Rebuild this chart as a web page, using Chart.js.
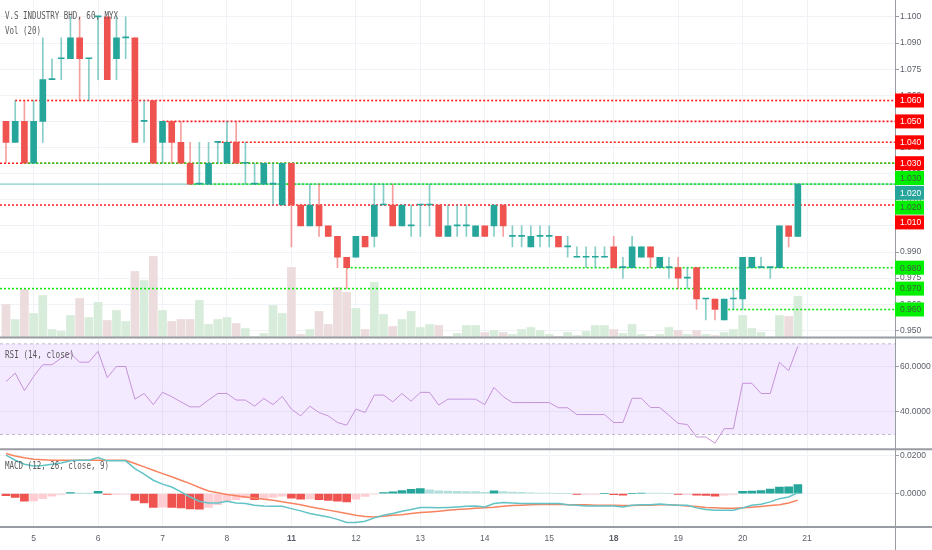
<!DOCTYPE html>
<html>
<head>
<meta charset="utf-8">
<script src="https://cdn.jsdelivr.net/npm/chart.js@4.4.1/dist/chart.umd.min.js"></script>
<style>
html, body { margin: 0; padding: 0; background: #fff; }
canvas { display: block; }
</style>
</head>
<body>
<canvas id="chart" width="932" height="550"></canvas>
<script>
////////////////////////////////////////////////////////////////////////////////
// Data (hourly bars, V.S Industry Bhd, MYX).

var dayTickIndex = [3, 10, 17, 24, 31, 38, 45, 52, 59, 66, 73, 80, 87];
var dayLabels = ['5', '6', '7', '8', '11', '12', '13', '14', '15', '18', '19', '20', '21'];
var weekStartDays = ['11', '18'];

var open = [1.050,1.040,1.050,1.030,1.050,1.070,1.080,1.080,1.090,1.080,
  1.100,1.100,1.080,1.090,1.090,1.050,1.060,1.040,1.050,1.040,
  1.030,1.020,1.020,1.040,1.030,1.040,1.030,1.020,1.020,1.020,
  1.010,1.030,1.010,1.000,1.010,1.000,0.995,0.985,0.985,0.995,
  0.995,1.010,1.010,1.000,1.000,1.010,1.010,1.010,0.995,1.000,
  1.000,0.995,1.000,1.000,1.010,0.995,0.995,0.990,0.995,0.995,
  0.995,0.990,0.985,0.985,0.985,0.985,0.990,0.980,0.980,0.985,
  0.990,0.980,0.980,0.980,0.975,0.980,0.965,0.965,0.955,0.965,
  0.965,0.980,0.980,0.980,0.980,1.000,0.995];
var high = [1.050,1.060,1.060,1.060,1.090,1.080,1.090,1.100,1.100,1.080,
  1.100,1.100,1.100,1.100,1.090,1.060,1.060,1.050,1.050,1.050,
  1.040,1.040,1.040,1.040,1.050,1.050,1.040,1.030,1.030,1.030,
  1.030,1.030,1.010,1.020,1.020,1.000,0.995,0.985,0.995,0.995,
  1.020,1.020,1.020,1.010,1.010,1.010,1.020,1.010,1.010,1.010,
  1.010,1.000,1.000,1.010,1.010,1.000,1.000,1.000,1.000,1.000,
  0.995,0.995,0.990,0.990,0.990,0.990,0.995,0.985,0.995,0.990,
  0.990,0.985,0.985,0.985,0.980,0.980,0.965,0.965,0.965,0.970,
  0.985,0.985,0.985,0.980,1.000,1.000,1.020];
var low = [1.030,1.040,1.030,1.030,1.040,1.070,1.070,1.080,1.060,1.060,
  1.070,1.070,1.070,1.080,1.040,1.040,1.030,1.030,1.030,1.030,
  1.020,1.020,1.020,1.030,1.030,1.030,1.020,1.020,1.020,1.010,
  1.010,0.990,1.000,1.000,0.995,0.995,0.980,0.970,0.985,0.990,
  0.990,1.010,1.000,1.000,0.995,0.995,1.000,0.995,0.995,0.995,
  0.995,0.995,0.995,0.995,0.995,0.990,0.990,0.990,0.990,0.990,
  0.990,0.985,0.985,0.980,0.980,0.985,0.980,0.975,0.980,0.985,
  0.980,0.980,0.975,0.970,0.970,0.960,0.955,0.955,0.955,0.960,
  0.960,0.980,0.980,0.975,0.980,0.990,0.995];
var close = [1.040,1.050,1.030,1.050,1.070,1.070,1.080,1.090,1.080,1.080,
  1.100,1.070,1.090,1.090,1.040,1.050,1.030,1.050,1.040,1.030,
  1.020,1.020,1.030,1.040,1.040,1.030,1.030,1.020,1.030,1.020,
  1.030,1.010,1.000,1.010,1.000,0.995,0.985,0.980,0.995,0.990,
  1.010,1.010,1.000,1.010,1.000,1.010,1.010,0.995,1.000,1.000,
  1.000,1.000,0.995,1.010,1.000,0.995,0.995,0.995,0.995,0.995,
  0.990,0.990,0.985,0.985,0.985,0.985,0.980,0.980,0.990,0.990,
  0.985,0.985,0.980,0.975,0.975,0.965,0.965,0.960,0.965,0.965,
  0.985,0.985,0.980,0.980,1.000,0.995,1.020];
var volume = [330,180,480,240,420,80,60,220,390,200,
  350,170,270,160,660,570,810,270,160,180,
  180,370,130,180,200,140,90,10,40,320,
  240,700,30,80,260,130,500,450,290,80,
  550,230,110,180,260,100,130,120,10,40,
  120,120,50,70,50,30,80,100,70,30,
  10,50,20,60,120,120,80,40,130,30,
  10,30,100,70,30,70,30,20,50,80,
  220,90,50,5,220,210,410];

var rsi = [53.3,57.1,49.4,55.6,60.8,60.8,63.7,65.9,61.9,61.9,
  66.7,55.1,60.0,60.0,45.6,48.1,43.2,48.6,46.7,44.4,
  42.2,42.2,45.2,48.1,48.1,45.2,45.2,42.5,45.9,43.2,
  46.8,41.2,38.2,42.5,39.7,38.2,35.3,34.1,41.2,39.7,
  47.4,47.4,44.4,48.1,44.7,48.6,48.6,43.0,45.6,45.6,
  45.6,45.6,43.2,50.8,46.7,44.1,44.1,44.1,44.1,44.1,
  41.8,41.8,38.8,38.8,38.8,38.8,35.3,35.3,46.0,46.0,
  41.9,41.9,38.5,34.9,34.4,28.9,28.9,26.2,32.6,32.6,
  52.6,52.6,48.1,48.1,61.9,58.1,68.9];

var macd = [0.0204,0.0177,0.0156,0.0147,0.0149,0.0156,0.0163,0.0174,0.0177,0.0177,
  0.0191,0.0174,0.0174,0.0174,0.0133,0.0103,0.0071,0.0050,0.0035,0.0009,
  -0.0018,-0.0041,-0.0050,-0.0050,-0.0041,-0.0050,-0.0053,-0.0062,-0.0066,-0.0067,
  -0.0067,-0.0080,-0.0092,-0.0106,-0.0115,-0.0124,-0.0137,-0.0154,-0.0154,-0.0147,
  -0.0129,-0.0115,-0.0106,-0.0094,-0.0085,-0.0074,-0.0074,-0.0076,-0.0074,-0.0071,
  -0.0067,-0.0066,-0.0071,-0.0053,-0.0048,-0.0050,-0.0053,-0.0053,-0.0053,-0.0053,
  -0.0053,-0.0059,-0.0062,-0.0066,-0.0066,-0.0066,-0.0066,-0.0071,-0.0062,-0.0059,
  -0.0059,-0.0055,-0.0059,-0.0062,-0.0062,-0.0076,-0.0085,-0.0089,-0.0089,-0.0089,
  -0.0076,-0.0062,-0.0057,-0.0044,-0.0027,-0.0018,0.0005];
var signal = [0.0213,0.0200,0.0190,0.0183,0.0180,0.0177,0.0177,0.0177,0.0177,0.0177,
  0.0177,0.0177,0.0177,0.0177,0.0160,0.0142,0.0124,0.0106,0.0089,0.0071,
  0.0053,0.0032,0.0014,0.0004,-0.0005,-0.0012,-0.0018,-0.0023,-0.0030,-0.0035,
  -0.0043,-0.0051,-0.0059,-0.0070,-0.0079,-0.0088,-0.0097,-0.0106,-0.0115,-0.0122,
  -0.0124,-0.0121,-0.0115,-0.0112,-0.0106,-0.0101,-0.0098,-0.0094,-0.0089,-0.0085,
  -0.0082,-0.0078,-0.0076,-0.0073,-0.0067,-0.0064,-0.0062,-0.0059,-0.0058,-0.0058,
  -0.0057,-0.0059,-0.0059,-0.0060,-0.0062,-0.0062,-0.0062,-0.0064,-0.0064,-0.0062,
  -0.0062,-0.0060,-0.0060,-0.0062,-0.0066,-0.0069,-0.0074,-0.0076,-0.0078,-0.0078,
  -0.0076,-0.0073,-0.0069,-0.0064,-0.0059,-0.0050,-0.0035];
var histogram = [-0.0011,-0.0020,-0.0041,-0.0039,-0.0027,-0.0014,-0.0005,0.0005,0.0001,0.0001,
  0.0012,-0.0005,-0.0004,-0.0003,-0.0036,-0.0050,-0.0073,-0.0072,-0.0074,-0.0076,
  -0.0082,-0.0083,-0.0073,-0.0059,-0.0041,-0.0032,-0.0023,-0.0033,-0.0027,-0.0020,
  -0.0014,-0.0024,-0.0030,-0.0029,-0.0033,-0.0036,-0.0040,-0.0044,-0.0030,-0.0015,
  -0.0003,0.0005,0.0009,0.0016,0.0022,0.0026,0.0020,0.0014,0.0013,0.0012,
  0.0011,0.0010,0.0006,0.0015,0.0011,0.0008,0.0006,0.0004,0.0003,0.0002,
  0.0000,0.0000,-0.0005,-0.0005,-0.0004,0.0000,-0.0006,-0.0008,0.0000,0.0003,
  0.0003,0.0003,0.0000,-0.0004,-0.0004,-0.0009,-0.0010,-0.0014,-0.0008,-0.0005,
  0.0012,0.0013,0.0016,0.0024,0.0034,0.0036,0.0048];

// Horizontal levels drawn on the chart; start = first bar of the ray (null = left edge).
var resistanceLevels = [1.060, 1.050, 1.040, 1.030, 1.010];
var resistanceStart = [1, 17, 23, null, null];
var supportLevels = [1.030, 1.020, 0.980, 0.970, 0.960];
var supportStart = [2, 20, 37, null, 78];

var priceTicks = [0.95, 0.9625, 0.975, 0.9875, 1.0, 1.0125, 1.025, 1.0375, 1.05, 1.0625, 1.075, 1.0875, 1.1];
var priceTickLabels = ['0.950', '0.960', '0.975', '0.990', '1.000', '1.010', '1.025', '1.040', '1.050', '1.060', '1.075', '1.090', '1.100'];
var rsiTicks = [40, 60];
var rsiBand = [70, 30];
var macdTicks = [0, 0.02];

////////////////////////////////////////////////////////////////////////////////
// Look.

var UP = '#26a69a';
var DOWN = '#ef5350';
var UP_WICK = 'rgba(38, 166, 154, 0.55)';
var DOWN_WICK = 'rgba(239, 83, 80, 0.55)';
var VOL_UP = '#d8ecdb';
var VOL_DOWN = '#ecdcdd';
var RES = '#ff1a1a';
var SUP = '#14e614';
var GRID = '#eff2f6';
var AXIS = '#9a9ca3';
var TEXT = '#5d606b';
var FONT = '"Liberation Sans", Arial, sans-serif';
var MONO = '"DejaVu Sans Mono", monospace';

var X_MIN = -0.65;
var X_MAX = 96.55;
// Pane heights (px) used as stack weights.
var PRICE_W = 337.3, RSI_W = 111.7, MACD_W = 77.7;
var VOL_MAX = 3373;

function isUp(i) { return close[i] >= open[i]; }
function idx(arr) { return arr.map(function (v, i) { return { x: i, y: v }; }); }
function ray(level, start) {
    return [{ x: start === null ? X_MIN : start, y: level }, { x: X_MAX, y: level }];
}
function zeroPad(s) { s.paddingTop = 0; s.paddingBottom = 0; s.paddingLeft = 0; s.paddingRight = 0; }

var datasets = [];

// Volume (behind everything).
datasets.push({
    type: 'bar', yAxisID: 'vol', order: 20, grouped: false, barThickness: 8,
    data: idx(volume),
    backgroundColor: function (c) { return isUp(c.dataIndex) ? VOL_UP : VOL_DOWN; }
});

// Current price line.
var lastPrice = close[close.length - 1];
datasets.push({
    type: 'line', yAxisID: 'y', order: 12, data: ray(lastPrice, null),
    borderColor: 'rgba(38, 166, 154, 0.7)', borderWidth: 1, pointRadius: 0
});

resistanceLevels.forEach(function (lv, k) {
    datasets.push({
        type: 'line', yAxisID: 'y', order: 10, data: ray(lv, resistanceStart[k]),
        borderColor: RES, borderWidth: 1.6, borderDash: [2, 2], pointRadius: 0
    });
});
supportLevels.forEach(function (lv, k) {
    datasets.push({
        type: 'line', yAxisID: 'y', order: 9, data: ray(lv, supportStart[k]),
        borderColor: SUP, borderWidth: 1.6, borderDash: [2, 2], pointRadius: 0
    });
});

// Candles: wick then body, both floating bars.
datasets.push({
    type: 'bar', yAxisID: 'y', order: 2, grouped: false, barThickness: 1, minBarLength: 1,
    data: high.map(function (h, i) { return { x: i, y: [low[i], h] }; }),
    backgroundColor: function (c) { return isUp(c.dataIndex) ? UP_WICK : DOWN_WICK; }
});
datasets.push({
    type: 'bar', yAxisID: 'y', order: 1, grouped: false, barThickness: 6, minBarLength: 1,
    data: open.map(function (o, i) { return { x: i, y: [o, close[i]] }; }),
    backgroundColor: function (c) { return isUp(c.dataIndex) ? UP : DOWN; }
});

// RSI band and line.
datasets.push({
    type: 'line', yAxisID: 'rsi', order: 6, data: ray(rsiBand[0], null),
    borderColor: 'rgba(150, 150, 160, 0.6)', borderWidth: 1, borderDash: [3, 3], pointRadius: 0
});
datasets.push({
    type: 'line', yAxisID: 'rsi', order: 5, data: ray(rsiBand[1], null),
    borderColor: 'rgba(150, 150, 160, 0.6)', borderWidth: 1, borderDash: [3, 3], pointRadius: 0,
    fill: '-1', backgroundColor: 'rgba(160, 80, 255, 0.12)'
});
datasets.push({
    type: 'line', yAxisID: 'rsi', order: 3, data: idx(rsi),
    borderColor: '#c592d8', borderWidth: 1, pointRadius: 0, tension: 0
});

// MACD.
datasets.push({
    type: 'bar', yAxisID: 'macd', order: 8, grouped: false, barThickness: 8,
    data: idx(histogram),
    backgroundColor: function (c) {
        var i = c.dataIndex, v = histogram[i], p = i > 0 ? histogram[i - 1] : 0;
        if (v >= 0) return v > p ? '#26a69a' : '#b2dfdb';
        return v < p ? '#ef5350' : '#ffcdd2';
    }
});
datasets.push({
    type: 'line', yAxisID: 'macd', order: 4, data: idx(signal),
    borderColor: '#f7835f', borderWidth: 1.5, pointRadius: 0, tension: 0
});
datasets.push({
    type: 'line', yAxisID: 'macd', order: 3, data: idx(macd),
    borderColor: '#62c3c6', borderWidth: 1.5, pointRadius: 0, tension: 0
});

////////////////////////////////////////////////////////////////////////////////
// Plugins: pane separators, pane titles and the coloured price labels.

var decorPlugin = {
    id: 'decor',
    afterDraw: function (chart) {
        var ctx = chart.ctx, area = chart.chartArea, s = chart.scales;
        ctx.save();
        ctx.strokeStyle = AXIS;
        ctx.lineWidth = 2;
        [s.y.bottom, s.rsi.bottom, s.macd.bottom].forEach(function (yy) {
            ctx.beginPath();
            ctx.moveTo(0, yy);
            ctx.lineTo(chart.width, yy);
            ctx.stroke();
        });
        ctx.lineWidth = 1;
        ctx.beginPath();
        ctx.moveTo(area.right + 0.5, 0);
        ctx.lineTo(area.right + 0.5, chart.height);
        ctx.stroke();

        ctx.fillStyle = '#5a5a5a';
        ctx.font = '10px ' + MONO;
        ctx.textBaseline = 'middle';
        ctx.fillText('V.S INDUSTRY BHD, 60, MYX', 5, s.y.top + 16.5, 113);
        ctx.fillText('Vol (20)', 5, s.y.top + 31, 36);
        ctx.fillText('RSI (14, close)', 5, s.rsi.top + 17.5, 69);
        ctx.fillText('MACD (12, 26, close, 9)', 5, s.macd.top + 17, 104);
        ctx.restore();
    }
};

var priceLabelPlugin = {
    id: 'priceLabels',
    afterDraw: function (chart) {
        var ctx = chart.ctx, y = chart.scales.y, left = chart.chartArea.right;
        var items = [];
        resistanceLevels.forEach(function (v) { items.push({ v: v, rank: 0, bg: '#ff0000', fg: '#ffffff' }); });
        items.push({ v: lastPrice, rank: 1, bg: UP, fg: '#ffffff' });
        supportLevels.forEach(function (v) { items.push({ v: v, rank: 2, bg: '#00f000', fg: '#3d5c3d' }); });
        items.sort(function (a, b) { return b.v - a.v || a.rank - b.rank; });

        var boxH = 14, step = 14.8, prev = -Infinity;
        ctx.save();
        ctx.font = '8.5px ' + FONT;
        ctx.textBaseline = 'middle';
        items.forEach(function (it) {
            var cy = Math.max(y.getPixelForValue(it.v), prev + step);
            prev = cy;
            ctx.fillStyle = it.bg;
            ctx.fillRect(left, cy - boxH / 2, 29, boxH);
            ctx.fillStyle = it.fg;
            ctx.fillText(it.v.toFixed(3), left + 5, cy + 0.5);
        });
        ctx.restore();
    }
};

////////////////////////////////////////////////////////////////////////////////
// Chart.

function rightAxis(weight, min, max, ticks, labelFn) {
    return {
        type: 'linear', position: 'right', stack: 'pane', stackWeight: weight,
        min: min, max: max,
        afterBuildTicks: function (s) { s.ticks = ticks.map(function (v) { return { value: v }; }); },
        afterFit: function (s) { s.width = 37; zeroPad(s); },
        grid: { color: GRID, tickColor: AXIS, tickLength: 4 },
        border: { display: false },
        ticks: {
            padding: 1, color: TEXT, font: { family: FONT, size: 8.5 },
            callback: function (v, i) { return labelFn(ticks[i], i); }
        }
    };
}

var ctx = document.getElementById('chart').getContext('2d');
var myChart = new Chart(ctx, {
    data: { datasets: datasets },
    options: {
        responsive: false,
        animation: false,
        events: [],
        layout: { padding: 0, autoPadding: false },
        plugins: { legend: { display: false }, tooltip: { enabled: false } },
        scales: {
            x: {
                type: 'linear', min: X_MIN, max: X_MAX, offset: false,
                afterBuildTicks: function (s) { s.ticks = dayTickIndex.map(function (v) { return { value: v }; }); },
                afterFit: function (s) { s.height = 23; zeroPad(s); },
                grid: { color: GRID, drawTicks: false, offset: false },
                border: { display: false },
                ticks: {
                    autoSkip: false, maxRotation: 0, padding: 7, color: TEXT,
                    font: function (c) {
                        var bold = weekStartDays.indexOf(dayLabels[c.index]) >= 0;
                        return { family: FONT, size: 8.5, weight: bold ? 'bold' : 'normal' };
                    },
                    callback: function (v, i) { return dayLabels[i]; }
                }
            },
            y: rightAxis(PRICE_W, 0.9466, 1.1081, priceTicks, function (v, i) { return priceTickLabels[i]; }),
            rsi: rightAxis(RSI_W, 23.5, 72.8, rsiTicks, function (v) { return v.toFixed(4); }),
            macd: rightAxis(MACD_W, -0.01777, 0.02356, macdTicks, function (v) { return v.toFixed(4); }),
            vol: {
                type: 'linear', position: 'right', display: false,
                min: -VOL_MAX * (RSI_W + MACD_W) / PRICE_W, max: VOL_MAX
            }
        }
    },
    plugins: [decorPlugin, priceLabelPlugin]
});
</script>
</body>
</html>
